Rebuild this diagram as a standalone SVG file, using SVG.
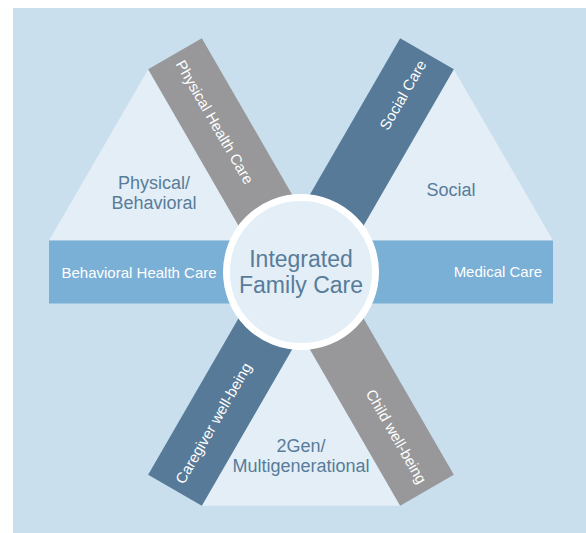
<svg xmlns="http://www.w3.org/2000/svg" width="586" height="533" viewBox="0 0 586 533">
  <style>
    .tri { fill: #e3eef6; }
    .lbl { font-family: "Liberation Sans", Arial, sans-serif; fill: #587c9a; text-anchor: middle; }
    .sector { font-size: 18px; }
    .bar-txt { font-family: "Liberation Sans", Arial, sans-serif; font-size: 15px; fill: #ffffff; }
  </style>
  <rect x="0" y="0" width="586" height="533" fill="#ffffff"/>
  <rect id="background" x="13" y="8" width="573" height="525" fill="#c9dfed"/>

  <g id="sector-physical-behavioral">
    <polygon class="tri" points="148.2,69.3 49,240.5 247.4,240.5"/>
    <text class="lbl sector" x="154" y="189.3">Physical/</text>
    <text class="lbl sector" x="154" y="208.5">Behavioral</text>
  </g>
  <g id="sector-social">
    <polygon class="tri" points="453.8,69.3 354.6,240.5 553,240.5"/>
    <text class="lbl sector" x="451" y="196">Social</text>
  </g>
  <g id="sector-2gen">
    <polygon class="tri" points="301,333.9 201.8,505.7 400.2,505.7"/>
    <text class="lbl sector" x="301" y="452.3">2Gen/</text>
    <text class="lbl sector" x="301" y="471.7">Multigenerational</text>
  </g>

  <g id="band-horizontal" transform="translate(301,272)">
    <rect x="-252" y="-31.5" width="504" height="63" fill="#7aafd6"/>
    <text class="bar-txt" x="-239.5" y="5.5">Behavioral Health Care</text>
    <text class="bar-txt" x="241" y="4.5" text-anchor="end">Medical Care</text>
  </g>

  <g id="band-gray" transform="translate(301,272) rotate(60)">
    <rect x="-252" y="-31" width="504" height="62" fill="#98989a"/>
    <text class="bar-txt" x="-243" y="5">Physical Health Care</text>
    <text class="bar-txt" x="243" y="5" text-anchor="end">Child well-being</text>
  </g>

  <g id="band-blue" transform="translate(301,272) rotate(-60)">
    <rect x="-252" y="-31" width="504" height="62" fill="#567a97"/>
    <text class="bar-txt" x="-243" y="5">Caregiver well-being</text>
    <text class="bar-txt" x="243" y="5" text-anchor="end">Social Care</text>
  </g>

  <g id="center">
    <circle cx="301" cy="272" r="74.5" fill="#e3eef6" stroke="#ffffff" stroke-width="7"/>
    <text class="lbl" x="301" y="267" font-size="23">Integrated</text>
    <text class="lbl" x="301" y="293" font-size="23">Family Care</text>
  </g>
</svg>
